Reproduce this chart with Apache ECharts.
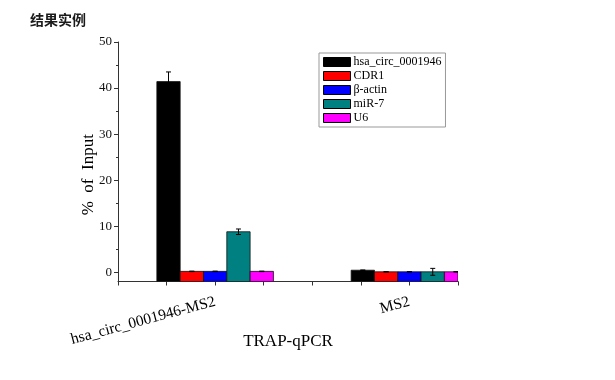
<!DOCTYPE html>
<html>
<head>
<meta charset="utf-8">
<script src="https://cdn.jsdelivr.net/npm/echarts@6/dist/echarts.min.js"></script>
<style>
html,body{margin:0;padding:0;background:#fff;}
#chart{width:615px;height:380px;}
</style>
</head>
<body>
<div id="chart"></div>
<script>
// ---- data ----
const xTickLabels = ['', '', 'hsa_circ_0001946-MS2', '', '', '', 'MS2', ''];
const seriesNames = ['hsa_circ_0001946', 'CDR1', 'β-actin', 'miR-7', 'U6'];
const seriesColors = ['#000000', '#FF0000', '#0000FF', '#008080', '#FF00FF'];
// values per series for [hsa_circ_0001946-MS2, MS2]
const valHsaCirc = [41.4, 0.45];
const valCDR1    = [0.2, 0.1];
const valActin   = [0.2, 0.1];
const valMiR7    = [8.8, 0.1];
const valU6      = [0.2, 0.1];
const errHsaCirc = [2.1, 0.05];
const errCDR1    = [0.05, 0.03];
const errActin   = [0.05, 0.03];
const errMiR7    = [0.6, 0.75];
const errU6      = [0.05, 0.03];
const yTicks = [0, 10, 20, 30, 40, 50];
const yMinorTicks = [5, 15, 25, 35, 45];
const yMin = -2, yMax = 50;

const allVals = [valHsaCirc, valCDR1, valActin, valMiR7, valU6];
const allErrs = [errHsaCirc, errCDR1, errActin, errMiR7, errU6];
const groupIdx = xTickLabels.map((l, i) => l ? i : -1).filter(i => i >= 0);

const serif = 'Liberation Serif, Times New Roman, serif';
const nSeries = seriesNames.length;
const barFrac = 0.48;

function makeRender(k) {
  return function (params, api) {
    const cs = params.coordSys;
    const band = api.size([1, 0])[0];
    const barW = band * barFrac;
    const xi = api.value(0), v = api.value(1), e = api.value(2);
    const top = api.coord([xi, v]);
    const base = api.coord([xi, yMin]);
    const cx = top[0] + (k - (nSeries - 1) / 2) * barW;
    const rect = echarts.graphic.clipRectByRect(
      {x: cx - barW / 2, y: top[1], width: barW, height: base[1] - top[1]},
      {x: cs.x, y: cs.y, width: cs.width, height: cs.height});
    const children = [];
    if (rect) {
      children.push({type: 'rect', shape: rect,
        style: {fill: seriesColors[k], stroke: '#111', lineWidth: 0.8}});
    }
    if (e > 0 && cx <= cs.x + cs.width) {
      const yT = api.coord([xi, v + e])[1];
      const yB = api.coord([xi, Math.max(v - e, yMin)])[1];
      const cap = 2.5;
      const st = {stroke: '#000', lineWidth: 1};
      children.push({type: 'line', shape: {x1: cx, y1: yT, x2: cx, y2: yB}, style: st});
      children.push({type: 'line', shape: {x1: cx - cap, y1: yT, x2: cx + cap, y2: yT}, style: st});
      children.push({type: 'line', shape: {x1: cx - cap, y1: yB, x2: cx + cap, y2: yB}, style: st});
    }
    return {type: 'group', children: children};
  };
}

const series = seriesNames.map((name, k) => ({
  type: 'custom',
  name: name,
  clip: true,
  itemStyle: {color: seriesColors[k]},
  renderItem: makeRender(k),
  encode: {x: 0, y: 1},
  data: groupIdx.map((gi, j) => [gi, allVals[k][j], allErrs[k][j]])
}));

const chart = echarts.init(document.getElementById('chart'), null, {renderer: 'canvas'});
chart.setOption({
  animation: false,
  backgroundColor: '#fff',
  title: {
    text: '结果实例', left: 30, top: 13, padding: 0,
    textStyle: {fontFamily: 'Noto Sans CJK SC', fontSize: 14, fontWeight: 'bold', color: '#1a1a1a'}
  },
  legend: {
    orient: 'vertical', left: 319, top: 53,
    padding: [3, 4, 3, 4],
    itemWidth: 27, itemHeight: 9, itemGap: 2,
    borderColor: '#999', borderWidth: 1, backgroundColor: '#fff',
    textStyle: {fontFamily: serif, fontSize: 12, color: '#000', padding: [0, 0, 0, -2]},
    data: seriesNames.map((n, k) => ({name: n, icon: 'rect',
      itemStyle: {color: seriesColors[k], borderColor: '#000', borderWidth: 1}}))
  },
  grid: {left: 118, top: 42, width: 340, height: 239.5},
  xAxis: {
    type: 'category', data: xTickLabels, boundaryGap: false,
    name: 'TRAP-qPCR', nameLocation: 'middle', nameGap: 52, nameMoveOverlap: false,
    nameTextStyle: {fontFamily: serif, fontSize: 17, color: '#000'},
    axisLine: {onZero: false, lineStyle: {color: '#333', width: 1}},
    axisTick: {show: true, interval: 0, length: 4, inside: false, lineStyle: {color: '#333'}},
    axisLabel: {interval: 0, rotate: 15, margin: 20, fontFamily: serif, fontSize: 15.5, color: '#000'},
    splitLine: {show: false}
  },
  yAxis: [{
    type: 'value', min: yMin, max: yMax, position: 'left',
    name: '%  of  Input', nameLocation: 'middle', nameGap: 21, nameMoveOverlap: false,
    nameTextStyle: {fontFamily: serif, fontSize: 17, color: '#000', padding: [0, 26, 0, 0]},
    axisLine: {show: true, lineStyle: {color: '#333', width: 1}},
    axisTick: {show: true, length: 4, customValues: yTicks, lineStyle: {color: '#333'}},
    axisLabel: {customValues: yTicks, margin: 6, fontFamily: serif, fontSize: 13, color: '#111'},
    splitLine: {show: false}
  }, {
    type: 'value', min: yMin, max: yMax, position: 'left',
    axisLine: {show: false},
    axisTick: {show: true, length: 2, customValues: yMinorTicks, lineStyle: {color: '#333'}},
    axisLabel: {show: false},
    splitLine: {show: false}
  }],
  series: series
});
</script>
</body>
</html>
